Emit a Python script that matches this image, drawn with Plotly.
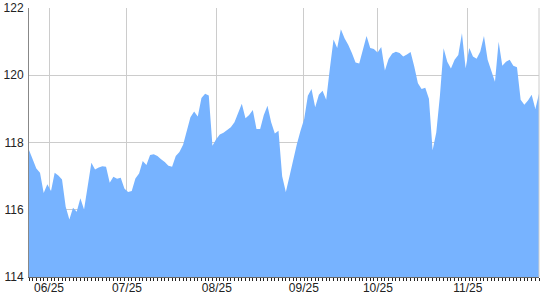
import plotly.graph_objects as go

values = [
    117.78, 117.5, 117.23, 117.1, 116.5, 116.76, 116.56, 117.1, 117.02, 116.9,
    116.09, 115.71, 116.06, 115.94, 116.34, 116.01, 116.68, 117.40, 117.2, 117.26,
    117.29, 117.28, 116.8, 116.98, 116.92, 116.95, 116.63, 116.53, 116.56, 116.93,
    117.08, 117.45, 117.33, 117.63, 117.65, 117.6, 117.5, 117.42, 117.31, 117.28,
    117.6, 117.72, 117.93, 118.35, 118.75, 118.92, 118.77, 119.32, 119.45, 119.40,
    117.9, 118.1, 118.24, 118.29, 118.37, 118.45, 118.6, 118.9, 119.15, 118.72,
    118.82, 118.97, 118.4, 118.4, 118.82, 119.09, 118.6, 118.27, 118.35, 117.0,
    116.53, 117.0, 117.5, 117.95, 118.35, 118.7, 119.39, 119.59, 119.05, 119.42,
    119.54, 119.27, 120.2, 121.06, 120.81, 121.37, 121.1, 120.91, 120.66, 120.38,
    120.35, 120.76, 121.17, 120.81, 120.78, 120.68, 120.84, 120.14, 120.48, 120.65,
    120.7, 120.66, 120.56, 120.62, 120.69, 120.26, 119.76, 119.59, 119.63, 119.3,
    117.77, 118.3, 119.4, 120.8, 120.4, 120.2, 120.46, 120.6, 121.25, 120.21,
    120.81, 120.56, 120.49, 120.71, 121.17, 120.46, 120.11, 119.81, 121.0, 120.28,
    120.4, 120.46, 120.28, 120.24, 119.27, 119.12, 119.25, 119.42, 119.0, 119.45,
]
x_index = list(range(len(values)))
month_labels = ["06/25", "07/25", "08/25", "09/25", "10/25", "11/25"]
month_positions = [5.45, 26.7, 51.2, 74.9, 95.1, 119.6]
y_ticks = [114, 116, 118, 120, 122]

fig = go.Figure()
fig.add_trace(go.Scatter(
    x=x_index, y=values, mode="lines", fill="tozeroy",
    line=dict(color="#77b3ff", width=0), fillcolor="#77b3ff",
    hoverinfo="skip",
))

fig.update_layout(
    width=540, height=300,
    margin=dict(l=29, r=1, t=8, b=23),
    paper_bgcolor="white", plot_bgcolor="white",
    showlegend=False,
    font=dict(family="Liberation Sans, Arial, sans-serif", size=12, color="#222"),
    xaxis=dict(
        range=[0, len(values) - 1],
        tickmode="array", tickvals=month_positions, ticktext=month_labels,
        showgrid=True, gridcolor="#cccccc", gridwidth=1,
        ticks="", showline=True, linecolor="#666", linewidth=1,
        zeroline=False,
        minor=dict(tickmode="linear", tick0=0, dtick=1, ticks="outside",
                   ticklen=3, tickcolor="#222", tickwidth=1, showgrid=False),
        tickfont=dict(size=12, color="#222"),
    ),
    yaxis=dict(
        range=[114, 122], tickvals=y_ticks,
        showgrid=True, gridcolor="#cccccc", gridwidth=1,
        ticks="", showline=True, linecolor="#888", linewidth=1,
        zeroline=False, tickfont=dict(size=12, color="#222"),
        ticklabelstandoff=2,
    ),
    shapes=[dict(type="line", xref="paper", yref="paper", x0=1, x1=1, y0=0, y1=1,
                 line=dict(color="#cccccc", width=1), layer="above")],
)

fig.write_html("out.html")
